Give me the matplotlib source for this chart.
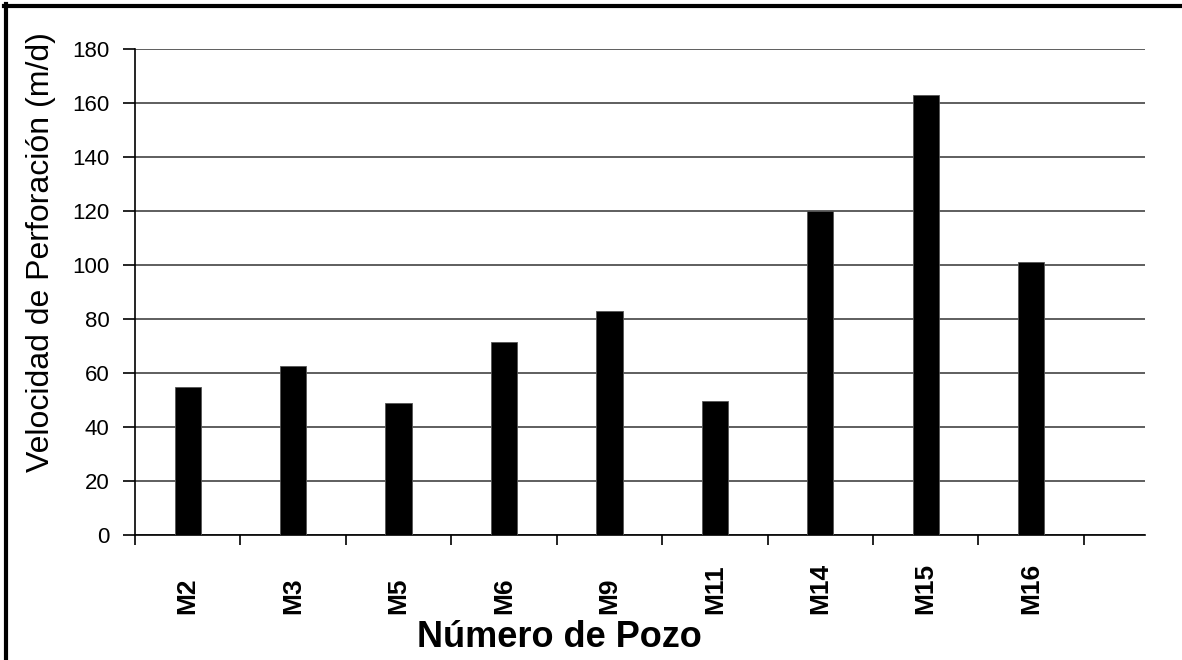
import matplotlib
matplotlib.use("Agg")
import matplotlib.pyplot as plt
from matplotlib.lines import Line2D
import numpy as np

plt.rcParams['font.family'] = ['Liberation Sans', 'DejaVu Sans']

# data
wells = ["M2", "M3", "M5", "M6", "M9", "M11", "M14", "M15", "M16"]
speed = [55, 62.5, 49, 71.5, 83, 49.5, 120, 163, 101]
y_ticks = [0, 20, 40, 60, 80, 100, 120, 140, 160, 180]

W, H = 1182, 660
fig = plt.figure(figsize=(W / 100, H / 100), dpi=100)
ax = fig.add_axes([135 / W, 1 - 535 / H, (1145 - 135) / W, (535 - 49) / H])

x = np.arange(len(wells))
ax.bar(x, speed, width=0.25, color="black", edgecolor="#555555", linewidth=0.6, zorder=3)

ax.set_ylim(0, 180)
ax.set_xlim(-0.5, len(wells) + 0.08)
ax.set_yticks(y_ticks)
ax.yaxis.grid(True, color="#333333", linewidth=1.1, zorder=0)

# tick marks on the category boundaries, labels in the middle
ax.set_xticks(np.arange(len(wells) + 1) - 0.5)
ax.set_xticklabels([])
ax.set_xticks(x, minor=True)
ax.set_xticklabels(wells, minor=True, rotation=90, fontsize=19, fontweight="bold")
for lab in ax.get_xticklabels(minor=True):
    lab.set_verticalalignment("bottom")
ax.tick_params(axis="x", which="major", direction="out", length=7.5, width=1.2)
ax.tick_params(axis="x", which="minor", length=0, pad=57)
ax.tick_params(axis="y", direction="out", length=8.5, width=1.2, labelsize=16, pad=10)

for side in ["top", "right"]:
    ax.spines[side].set_visible(False)
for side in ["left", "bottom"]:
    ax.spines[side].set_linewidth(1.2)
    ax.spines[side].set_color("black")

ax.set_xlabel("Número de Pozo", fontsize=26, fontweight="bold")
ax.xaxis.set_label_coords(0.42, -0.175)
ax.set_ylabel("Velocidad de Perforación (m/d)", fontsize=23)
ax.yaxis.set_label_coords(-0.078, 0.583)

# frame on the top and left edges of the picture
fig.add_artist(Line2D([5.5 / W, 5.5 / W], [0, 1 - 4 / H], color="black", linewidth=3, transform=fig.transFigure))
fig.add_artist(Line2D([4 / W, 1], [1 - 5.5 / H, 1 - 5.5 / H], color="black", linewidth=3, transform=fig.transFigure))

fig.savefig("out.png", dpi=100)
